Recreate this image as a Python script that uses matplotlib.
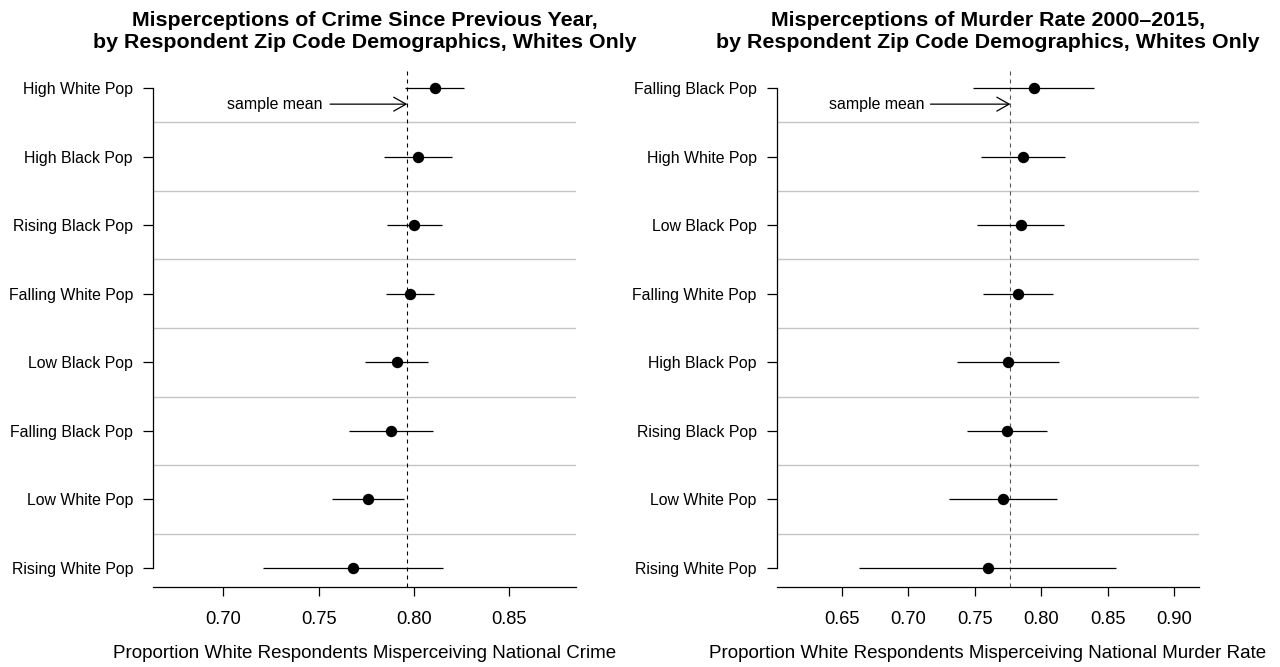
import matplotlib
matplotlib.use("Agg")
import matplotlib.pyplot as plt

plt.rcParams['font.family'] = ['Liberation Sans', 'DejaVu Sans']

# Panel 1: misperceptions of crime since previous year
crime_groups = ["High White Pop", "High Black Pop", "Rising Black Pop", "Falling White Pop",
                "Low Black Pop", "Falling Black Pop", "Low White Pop", "Rising White Pop"]
crime_est = [0.811, 0.802, 0.800, 0.798, 0.791, 0.788, 0.776, 0.768]
crime_lo = [0.7955, 0.7845, 0.7856, 0.7854, 0.7745, 0.7658, 0.757, 0.721]
crime_hi = [0.8265, 0.8198, 0.8146, 0.8106, 0.8076, 0.8102, 0.795, 0.815]
crime_mean = 0.7965
crime_ticks = [0.70, 0.75, 0.80, 0.85]

# Panel 2: misperceptions of murder rate 2000-2015
murder_groups = ["Falling Black Pop", "High White Pop", "Low Black Pop", "Falling White Pop",
                 "High Black Pop", "Rising Black Pop", "Low White Pop", "Rising White Pop"]
murder_est = [0.7944, 0.7864, 0.7844, 0.7823, 0.7751, 0.7740, 0.7713, 0.7603]
murder_lo = [0.7488, 0.7548, 0.7518, 0.7563, 0.7368, 0.7443, 0.731, 0.663]
murder_hi = [0.8398, 0.8180, 0.8169, 0.8087, 0.8137, 0.8044, 0.8117, 0.8562]
murder_mean = 0.7768
murder_ticks = [0.65, 0.70, 0.75, 0.80, 0.85, 0.90]

W, H = 1280, 667
fig = plt.figure(figsize=(W / 100, H / 100), dpi=100)

AX_TOP, AX_BOT = 69, 587


def panel(rect, groups, est, lo, hi, mean, ticks, xlim, title, xlabel,
          label_right, arrow_start, mean_color):
    ax = fig.add_axes(rect)
    n = len(groups)
    ys = list(range(1, n + 1))
    ax.set_ylim(n + 0.28, 0.72)
    ax.set_xlim(*xlim)

    # separators between rows
    for k in range(1, n):
        ax.axhline(k + 0.5, color='#c4c4c4', lw=1.0, zorder=1)

    ax.axvline(mean, color=mean_color, lw=0.8, dashes=(3.6, 3.6), zorder=2)

    ax.hlines(ys, lo, hi, color='black', lw=0.9, zorder=3)
    ax.plot(est, ys, 'o', color='black', ms=7.2, zorder=4)

    # sample mean annotation
    ya = 1.233
    ax.annotate('', xy=(mean, ya), xytext=(arrow_start, ya),
                arrowprops=dict(arrowstyle='->,head_length=0.886,head_width=0.5',
                                mutation_scale=10, lw=0.9, color='black',
                                shrinkA=0, shrinkB=0), zorder=5)
    ax.text(label_right, ya, 'sample mean', ha='right', va='center', fontsize=11.4)

    ax.set_yticks(ys)
    ax.set_yticklabels(groups, fontsize=11.4)
    ax.set_xticks(ticks)
    ax.set_xticklabels([f"{t:.2f}" for t in ticks], fontsize=13.2)
    ax.tick_params(axis='y', length=7.2, width=0.9, pad=7.2)
    ax.tick_params(axis='x', length=6.5, width=0.9, pad=11)

    for s in ('top', 'right'):
        ax.spines[s].set_visible(False)
    ax.spines['left'].set_bounds(1, n)
    ax.spines['left'].set_linewidth(0.9)
    ax.spines['bottom'].set_linewidth(0.9)

    ax.set_xlabel(xlabel, fontsize=13.5, va='center')
    ax.xaxis.set_label_coords(0.5, -(654 - AX_BOT) / (AX_BOT - AX_TOP))

    cx = rect[0] + rect[2] / 2
    fig.text(cx, 1 - 31.5 / H, title, ha='center', va='center', fontsize=15.4,
             fontweight='bold', linespacing=1.16)
    return ax


hgt = (AX_BOT - AX_TOP) / H
panel([153 / W, 1 - AX_BOT / H, 423 / W, hgt], crime_groups, crime_est, crime_lo,
      crime_hi, crime_mean, crime_ticks, (0.6631, 0.885),
      "Misperceptions of Crime Since Previous Year,\nby Respondent Zip Code Demographics, Whites Only",
      "Proportion White Respondents Misperceiving National Crime",
      0.7518, 0.756, 'black')

panel([776.7 / W, 1 - AX_BOT / H, 422.6 / W, hgt], murder_groups, murder_est, murder_lo,
      murder_hi, murder_mean, murder_ticks, (0.6011, 0.9188),
      "Misperceptions of Murder Rate 2000\u20132015,\nby Respondent Zip Code Demographics, Whites Only",
      "Proportion White Respondents Misperceiving National Murder Rate",
      0.7124, 0.7167, '#555555')

fig.savefig("out.png", dpi=100, facecolor='white')
